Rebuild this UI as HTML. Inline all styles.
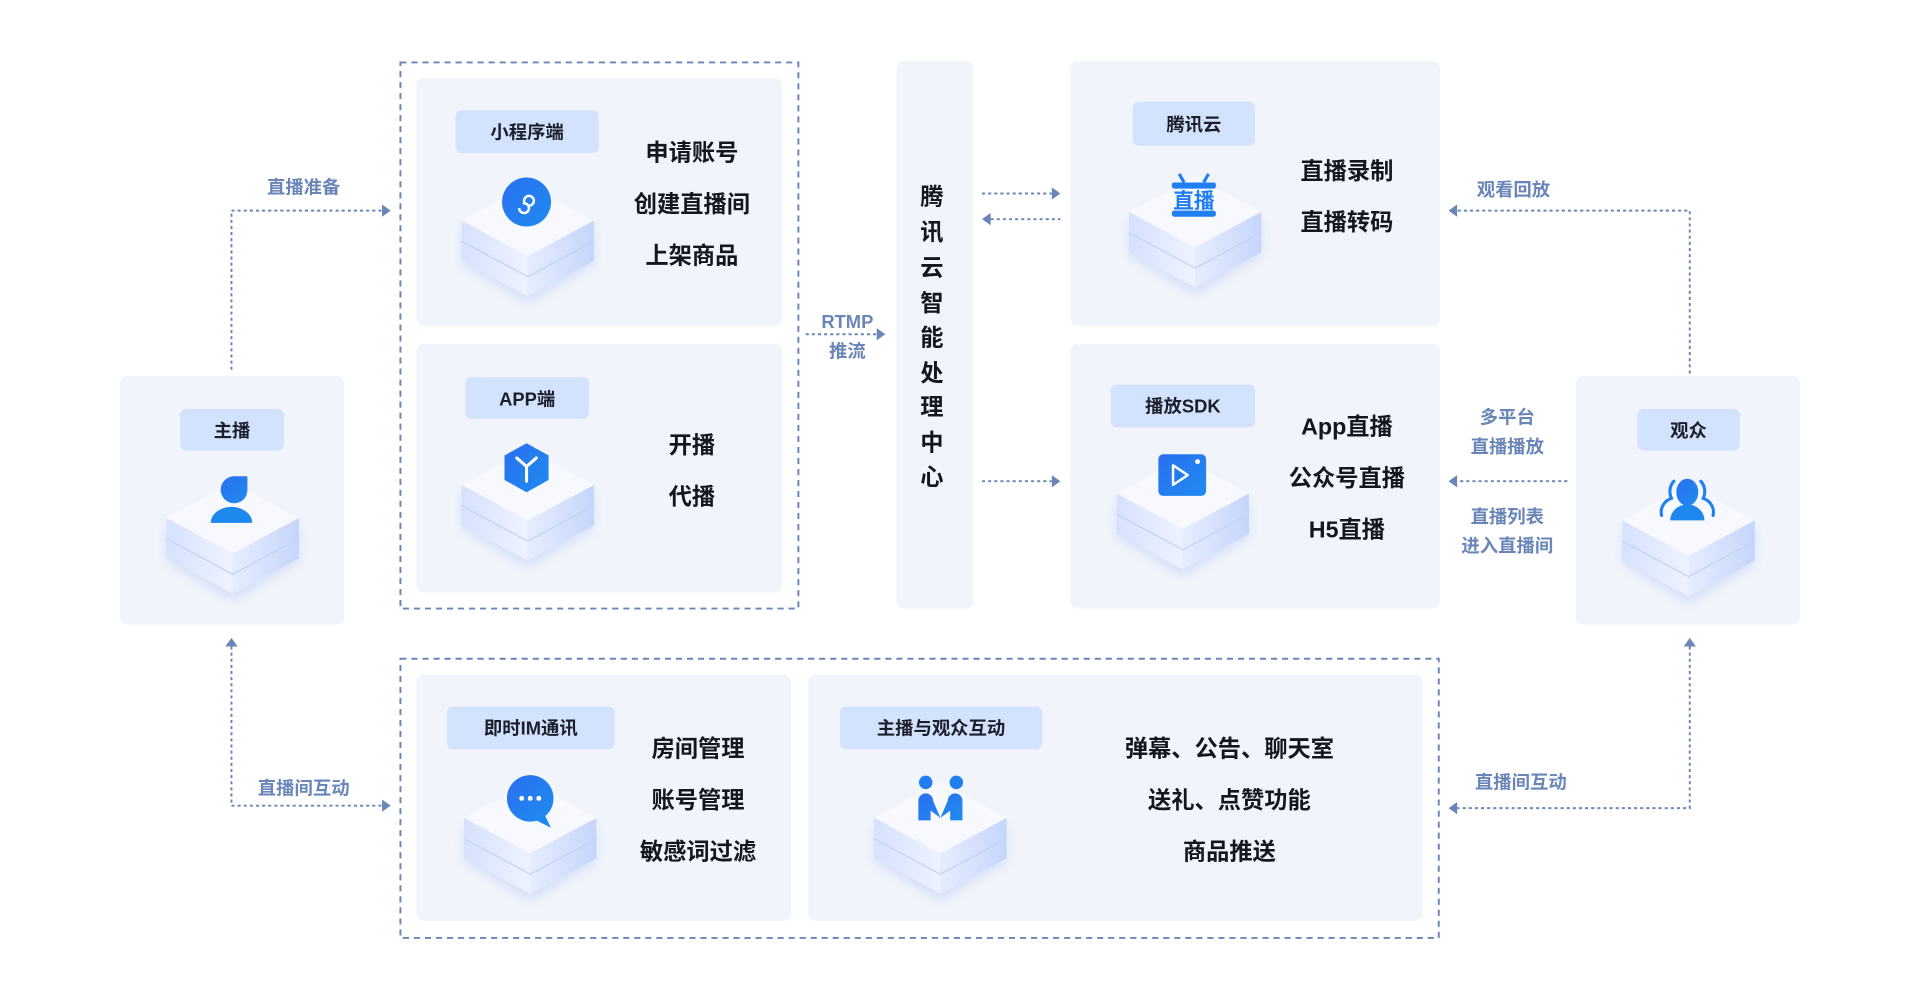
<!DOCTYPE html>
<html><head><meta charset="utf-8"><style>
html,body{margin:0;padding:0;background:#fff;width:1920px;height:1000px;overflow:hidden}
svg{display:block}
text{font-family:"Liberation Sans","Noto Sans CJK SC",sans-serif}
.lbl{font-size:15px;font-weight:700;fill:#1b1f2a;text-anchor:middle}
.big{font-size:19px;font-weight:700;fill:#14171f;text-anchor:middle}
.blue{font-size:15px;font-weight:700;fill:#6a86b8;text-anchor:middle}
.card{fill:#f1f5fb}
.pill{fill:#d3e2fd}
.dash{fill:none;stroke:#6a86b8;stroke-width:1.6;stroke-dasharray:5 4}
.dot{fill:none;stroke:#6a86b8;stroke-width:1.6;stroke-dasharray:2.5 2.5}
.ah{fill:#6a86b8}
</style></head><body>
<svg width="1920" height="1000" viewBox="0 0 1568 816.7" xmlns="http://www.w3.org/2000/svg">
<defs>
<linearGradient id="gl" x1="0" x2="1"><stop offset="0" stop-color="#d6e1fd"/><stop offset="1" stop-color="#eef3ff"/></linearGradient>
<linearGradient id="gr" x1="0" x2="1"><stop offset="0" stop-color="#e6edff"/><stop offset="1" stop-color="#c5d5fb"/></linearGradient>
<linearGradient id="gi" x1="0" y1="0" x2="1" y2="1"><stop offset="0" stop-color="#2a6ff0"/><stop offset="1" stop-color="#1f8cf0"/></linearGradient>
<filter id="sh" x="-50%" y="-50%" width="200%" height="200%"><feGaussianBlur stdDeviation="5"/></filter>
<g id="cube">
<path d="M-54 4 L0 37 L54 4 L54 36 L0 68 L-54 36Z" fill="#b8c9f2" opacity=".5" filter="url(#sh)"/>
<path d="M-54 0 L0 29 L0 62 L-54 33Z" fill="url(#gl)"/>
<path d="M54 0 L0 29 L0 62 L54 33Z" fill="url(#gr)"/>
<path d="M-54 17 L0 46 L54 17" fill="none" stroke="#c3d2f5" stroke-width="1"/>
<path d="M0 -29 L54 0 L0 29 L-54 0Z" fill="#f7f9ff"/>
</g>
</defs>

<!-- host -->
<rect class="card" x="98" y="307" width="183" height="203" rx="6"/>
<rect class="pill" x="147" y="334" width="85" height="34" rx="5"/>
<text class="lbl" x="189.5" y="357">主播</text>
<use href="#cube" x="190" y="423"/>
<path d="M198 389 h-6 a11 11 0 1 0 9 16 a11 11 0 0 0 1 -5 v-11Z" fill="url(#gi)"/>
<path d="M172 427 a17 13 0 0 1 34 0Z" fill="#1f88ee"/>

<!-- audience -->
<rect class="card" x="1287" y="307" width="183" height="203" rx="6"/>
<rect class="pill" x="1337" y="334" width="84" height="34" rx="5"/>
<text class="lbl" x="1379" y="357">观众</text>
<use href="#cube" x="1379" y="425"/>
<ellipse cx="1378" cy="402" rx="9" ry="11" fill="url(#gi)"/>
<path d="M1364 425 a14 13 0 0 1 28 0Z" fill="#1f88ee"/>
<path d="M1367 393 a9 11 0 0 0 -2 14 a13 12 0 0 0 -8 14 M1389 393 a9 11 0 0 1 2 14 a13 12 0 0 1 8 14" fill="none" stroke="#1f7ef0" stroke-width="2.5" stroke-linecap="round"/>

<!-- top dashed group -->
<rect class="dash" x="327" y="51" width="325" height="446"/>
<rect class="card" x="340" y="64" width="299" height="202" rx="6"/>
<rect class="pill" x="372" y="90" width="117" height="35" rx="5"/>
<text class="lbl" x="430.5" y="113">小程序端</text>
<use href="#cube" x="431" y="180"/>
<circle cx="430" cy="165" r="20" fill="url(#gi)"/>
<path d="M424 170 a4 4 0 1 0 4 -4 v-2 a4 4 0 1 1 4 4" fill="none" stroke="#fff" stroke-width="2"/>
<text class="big" x="565" y="131">申请账号</text>
<text class="big" x="565" y="173">创建直播间</text>
<text class="big" x="565" y="215">上架商品</text>

<rect class="card" x="340" y="281" width="299" height="203" rx="6"/>
<rect class="pill" x="380" y="308" width="101" height="34" rx="5"/>
<text class="lbl" x="430.5" y="331">APP端</text>
<use href="#cube" x="431" y="396"/>
<path d="M430 362 l18 10 v20 l-18 10 l-18 -10 v-20Z" fill="url(#gi)"/>
<path d="M422 374 l8 7 l8 -7 M430 381 v12" fill="none" stroke="#fff" stroke-width="2.5" stroke-linecap="round"/>
<text class="big" x="565" y="370">开播</text>
<text class="big" x="565" y="412">代播</text>

<!-- RTMP -->
<text class="blue" x="692" y="268">RTMP</text>
<text class="blue" x="692" y="292">推流</text>
<path class="dot" d="M658 273 H716"/>
<path class="ah" d="M716 268 L723 273 L716 278Z"/>

<!-- center -->
<rect class="card" x="732" y="50" width="63" height="447" rx="6"/>
<text class="big" x="761" y="167">腾</text>
<text class="big" x="761" y="196">讯</text>
<text class="big" x="761" y="225">云</text>
<text class="big" x="761" y="254">智</text>
<text class="big" x="761" y="282">能</text>
<text class="big" x="761" y="311">处</text>
<text class="big" x="761" y="339">理</text>
<text class="big" x="761" y="368">中</text>
<text class="big" x="761" y="396">心</text>
<path class="dot" d="M802 158 H859"/><path class="ah" d="M859 153 L866 158 L859 163Z"/>
<path class="dot" d="M809 179 H866"/><path class="ah" d="M809 174 L802 179 L809 184Z"/>
<path class="dot" d="M802 393 H859"/><path class="ah" d="M859 388 L866 393 L859 398Z"/>

<!-- cloud -->
<rect class="card" x="874" y="50" width="302" height="216" rx="6"/>
<rect class="pill" x="925" y="83" width="100" height="36" rx="5"/>
<text class="lbl" x="975" y="107">腾讯云</text>
<use href="#cube" x="976" y="173"/>
<path d="M963 142 l4 7 M987 142 l-4 7" stroke="#1f7ef0" stroke-width="2.5"/>
<rect x="957" y="149" width="36" height="5" rx="2" fill="#1f7ef0"/>
<text x="975" y="170" style="font-size:17px;font-weight:700;fill:#1f7ef0;text-anchor:middle">直播</text>
<rect x="957" y="172" width="36" height="5" rx="2" fill="#1f7ef0"/>
<text class="big" x="1100" y="146">直播录制</text>
<text class="big" x="1100" y="188">直播转码</text>

<!-- SDK -->
<rect class="card" x="874" y="281" width="302" height="216" rx="6"/>
<rect class="pill" x="907" y="314" width="118" height="35" rx="5"/>
<text class="lbl" x="966" y="337">播放SDK</text>
<use href="#cube" x="966" y="403"/>
<rect x="946" y="371" width="39" height="34" rx="4" fill="url(#gi)"/>
<path d="M958 380 l12 8 l-12 8Z" fill="none" stroke="#fff" stroke-width="2" stroke-linejoin="round"/>
<circle cx="978" cy="377" r="2" fill="#fff"/>
<text class="big" x="1100" y="355">App直播</text>
<text class="big" x="1100" y="397">公众号直播</text>
<text class="big" x="1100" y="439">H5直播</text>

<!-- right connectors -->
<text class="blue" x="1236" y="160">观看回放</text>
<path class="dot" d="M1380 305 V172 H1190"/><path class="ah" d="M1190 167 L1183 172 L1190 177Z"/>
<text class="blue" x="1231" y="346">多平台</text>
<text class="blue" x="1231" y="370">直播播放</text>
<path class="dot" d="M1280 393 H1190"/><path class="ah" d="M1190 388 L1183 393 L1190 398Z"/>
<text class="blue" x="1231" y="427">直播列表</text>
<text class="blue" x="1231" y="451">进入直播间</text>
<path class="dot" d="M1380 528 V660 H1190"/><path class="ah" d="M1375 528 L1380 521 L1385 528Z"/><path class="ah" d="M1190 655 L1183 660 L1190 665Z"/>
<text class="blue" x="1242" y="644">直播间互动</text>

<!-- left connectors -->
<text class="blue" x="248" y="158">直播准备</text>
<path class="dot" d="M189 302 V172 H312"/><path class="ah" d="M312 167 L319 172 L312 177Z"/>
<path class="dot" d="M189 528 V658 H312"/><path class="ah" d="M184 528 L189 521 L194 528Z"/><path class="ah" d="M312 653 L319 658 L312 663Z"/>
<text class="blue" x="248" y="649">直播间互动</text>

<!-- bottom group -->
<rect class="dash" x="327" y="538" width="848" height="228"/>
<rect class="card" x="340" y="551" width="306" height="201" rx="6"/>
<rect class="pill" x="365" y="577" width="137" height="35" rx="5"/>
<text class="lbl" x="433.5" y="600">即时IM通讯</text>
<use href="#cube" x="433" y="668"/>
<circle cx="433" cy="652" r="19" fill="url(#gi)"/>
<path d="M444 664 l6 12 l-12 -6Z" fill="#1f88ee"/>
<circle cx="426" cy="652" r="2" fill="#fff"/><circle cx="433" cy="652" r="2" fill="#fff"/><circle cx="440" cy="652" r="2" fill="#fff"/>
<text class="big" x="570" y="618">房间管理</text>
<text class="big" x="570" y="660">账号管理</text>
<text class="big" x="570" y="702">敏感词过滤</text>

<rect class="card" x="660" y="551" width="502" height="201" rx="6"/>
<rect class="pill" x="686" y="577" width="165" height="35" rx="5"/>
<text class="lbl" x="768.5" y="600">主播与观众互动</text>
<use href="#cube" x="768" y="668"/>
<circle cx="756" cy="639" r="5.5" fill="#1f7ef0"/><circle cx="781" cy="639" r="5.5" fill="#1f7ef0"/>
<path d="M750 670 v-16 a6 6 0 0 1 12 0 l6 14 l6 -14 a6 6 0 0 1 12 0 v16 h-10 v-8 l-8 6 l-8 -6 v8Z" fill="url(#gi)"/>
<text class="big" x="1004" y="618">弹幕、公告、聊天室</text>
<text class="big" x="1004" y="660">送礼、点赞功能</text>
<text class="big" x="1004" y="702">商品推送</text>
</svg>
</body></html>
